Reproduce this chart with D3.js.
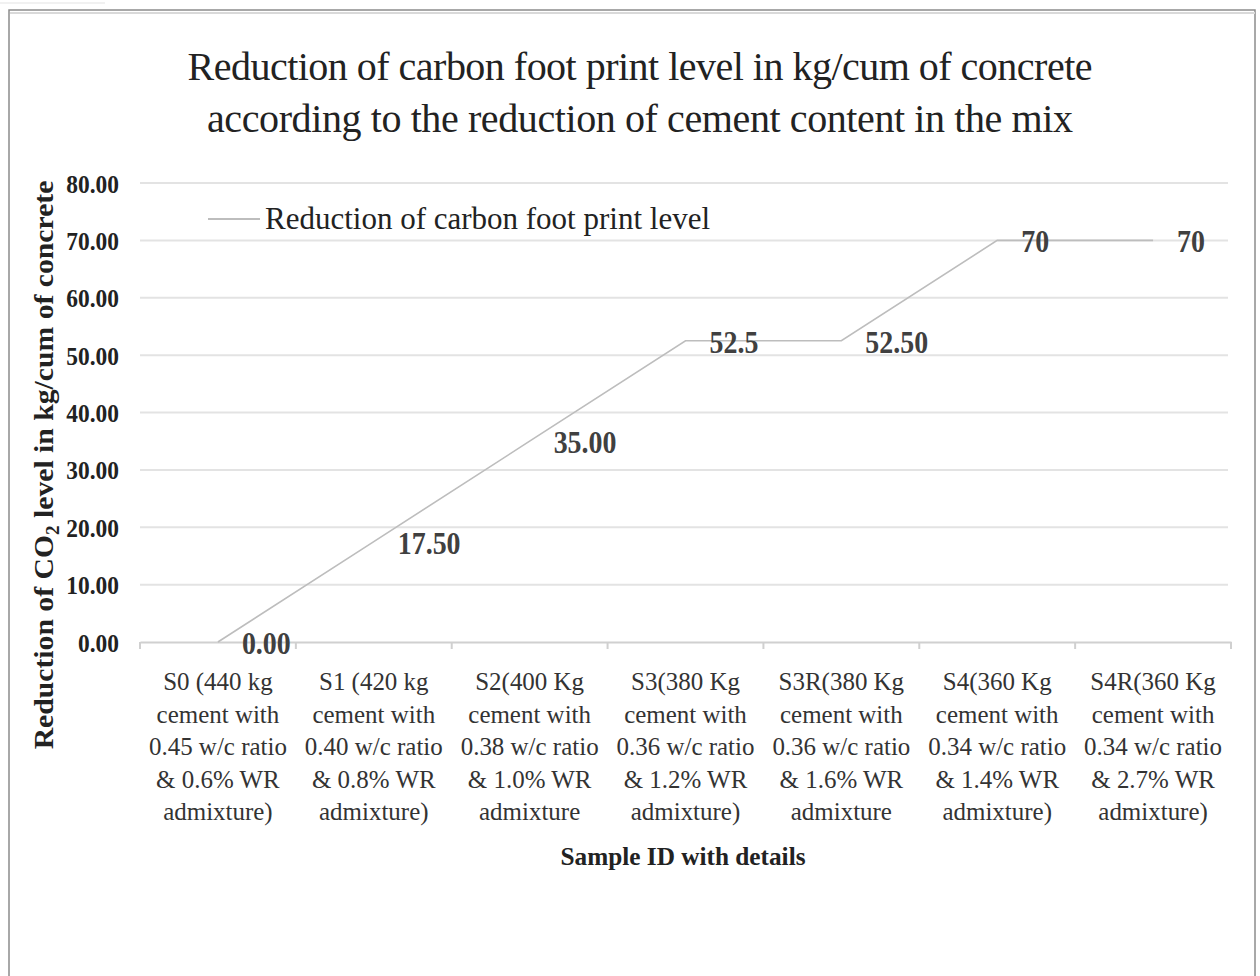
<!DOCTYPE html>
<html>
<head>
<meta charset="utf-8">
<script src="https://cdn.jsdelivr.net/npm/d3@7"></script>
<style>
  body { margin: 0; background: #fff; }
  text { font-family: "Liberation Serif", "Times New Roman", serif; }
</style>
</head>
<body>
<svg id="vis" width="1260" height="976"></svg>
<script>
// chart values
const categories = [
  ["S0 (440 kg", "cement with", "0.45 w/c ratio", "& 0.6% WR", "admixture)"],
  ["S1 (420 kg", "cement with", "0.40 w/c ratio", "& 0.8% WR", "admixture)"],
  ["S2(400 Kg", "cement with", "0.38 w/c ratio", "& 1.0% WR", "admixture"],
  ["S3(380 Kg", "cement with", "0.36 w/c ratio", "& 1.2% WR", "admixture)"],
  ["S3R(380 Kg", "cement with", "0.36 w/c ratio", "& 1.6% WR", "admixture"],
  ["S4(360 Kg", "cement with", "0.34 w/c ratio", "& 1.4% WR", "admixture)"],
  ["S4R(360 Kg", "cement with", "0.34 w/c ratio", "& 2.7% WR", "admixture)"]
];
const reduction = [0, 17.5, 35, 52.5, 52.5, 70, 70];
const valueLabels = ["0.00", "17.50", "35.00", "52.5", "52.50", "70", "70"];
const yTicks = [0, 10, 20, 30, 40, 50, 60, 70, 80];
const titleLines = [
  "Reduction of carbon foot print level in kg/cum of concrete",
  "according to the reduction of cement content in the mix"
];
const seriesName = "Reduction of carbon foot print level";
const xTitle = "Sample ID with details";

const svg = d3.select("svg#vis");

// squeeze text horizontally, the source looks condensed
function squeeze(sel, k) {
  sel.each(function() {
    const w = this.getComputedTextLength();
    d3.select(this).attr("textLength", w * k).attr("lengthAdjust", "spacingAndGlyphs");
  });
}

// frame
svg.append("rect")
  .attr("x", 9).attr("y", 10).attr("width", 1246).attr("height", 990)
  .attr("fill", "none").attr("stroke", "#8c8c8c").attr("stroke-width", 1.5);
svg.append("line")
  .attr("x1", 10).attr("x2", 1255).attr("y1", 13).attr("y2", 13)
  .attr("stroke", "#d9d9d9").attr("stroke-width", 2);
svg.append("line")
  .attr("x1", 0).attr("x2", 105).attr("y1", 3).attr("y2", 3)
  .attr("stroke", "#e3e3e3").attr("stroke-width", 1);

const x = d3.scaleBand()
  .domain(d3.range(categories.length))
  .range([140, 1231]);

const y = d3.scaleLinear()
  .domain([0, 80])
  .range([642, 183]);

// title, widths
const titleWidths = [905, 866];
svg.append("g").selectAll("text")
  .data(titleLines)
  .enter()
  .append("text")
  .attr("x", 640)
  .attr("y", (d, i) => 80 + i * 52)
  .attr("text-anchor", "middle")
  .attr("font-size", 40)
  .attr("fill", "#222")
  .attr("textLength", (d, i) => titleWidths[i])
  .attr("lengthAdjust", "spacing")
  .text(d => d);

// gridlines
svg.append("g").selectAll("line")
  .data(yTicks.filter(d => d > 0))
  .enter()
  .append("line")
  .attr("x1", 140).attr("x2", 1228)
  .attr("y1", d => y(d)).attr("y2", d => y(d))
  .attr("stroke", "#e3e3e3").attr("stroke-width", 2);

// y axis
const yAxis = svg.append("g")
  .attr("transform", "translate(119,0)")
  .call(d3.axisLeft(y).tickValues(yTicks).tickFormat(d3.format(".2f")).tickSize(0));
yAxis.select(".domain").remove();
yAxis.selectAll("text")
  .attr("font-family", "Liberation Serif, serif")
  .attr("font-size", 26)
  .attr("font-weight", "bold")
  .attr("fill", "#222")
  .attr("dy", "0.35em")
  .attr("x", 0)
  .call(squeeze, 0.9);

// x axis
const xAxis = svg.append("g")
  .attr("transform", "translate(0," + y(0) + ")")
  .call(d3.axisBottom(x).tickSize(0).tickFormat(""));
xAxis.select(".domain").attr("stroke", "#d0d0d0").attr("stroke-width", 2);
svg.append("g").selectAll("line")
  .data(d3.range(categories.length + 1))
  .enter()
  .append("line")
  .attr("x1", d => x.range()[0] + d * x.bandwidth())
  .attr("x2", d => x.range()[0] + d * x.bandwidth())
  .attr("y1", y(0)).attr("y2", y(0) + 7)
  .attr("stroke", "#d0d0d0").attr("stroke-width", 2);

// category labels
const cat = svg.append("g").selectAll("text")
  .data(categories)
  .enter()
  .append("text")
  .attr("text-anchor", "middle")
  .attr("font-size", 26)
  .attr("fill", "#333");
cat.selectAll("tspan")
  .data((d, i) => d.map(t => ({ t: t, i: i })))
  .enter()
  .append("tspan")
  .attr("x", d => x(d.i) + x.bandwidth() / 2)
  .attr("y", (d, j) => 690 + j * 32.5)
  .text(d => d.t)
  .call(squeeze, 0.96);

// x title
svg.append("text")
  .attr("x", 683).attr("y", 865)
  .attr("text-anchor", "middle")
  .attr("font-size", 26)
  .attr("font-weight", "bold")
  .attr("fill", "#222")
  .attr("textLength", 245)
  .attr("lengthAdjust", "spacingAndGlyphs")
  .text(xTitle);

// y title
const yt = svg.append("text")
  .attr("transform", "translate(53,465) rotate(-90)")
  .attr("text-anchor", "middle")
  .attr("font-size", 28)
  .attr("font-weight", "bold")
  .attr("fill", "#222");
yt.append("tspan").text("Reduction of CO");
yt.append("tspan").attr("font-size", 18).attr("dy", 6).text("2");
yt.append("tspan").attr("dy", -6).text(" level in kg/cum of concrete");
squeeze(yt, 1.06);

// line
const line = d3.line()
  .x((d, i) => x(i) + x.bandwidth() / 2)
  .y(d => y(d));
svg.append("path")
  .datum(reduction)
  .attr("d", line)
  .attr("fill", "none")
  .attr("stroke", "#bdbdbd")
  .attr("stroke-width", 1.6);

// data labels
svg.append("g").selectAll("text")
  .data(reduction)
  .enter()
  .append("text")
  .attr("x", (d, i) => x(i) + x.bandwidth() / 2 + 24)
  .attr("y", d => y(d) + 12)
  .attr("font-size", 31)
  .attr("font-weight", "bold")
  .attr("fill", "#404040")
  .text((d, i) => valueLabels[i])
  .call(squeeze, 0.9);

// legend
svg.append("line")
  .attr("x1", 208).attr("x2", 260).attr("y1", 219).attr("y2", 219)
  .attr("stroke", "#bdbdbd").attr("stroke-width", 2);
svg.append("text")
  .attr("x", 265).attr("y", 229)
  .attr("font-size", 32)
  .attr("fill", "#222")
  .attr("textLength", 445)
  .attr("lengthAdjust", "spacingAndGlyphs")
  .text(seriesName);
</script>
</body>
</html>
